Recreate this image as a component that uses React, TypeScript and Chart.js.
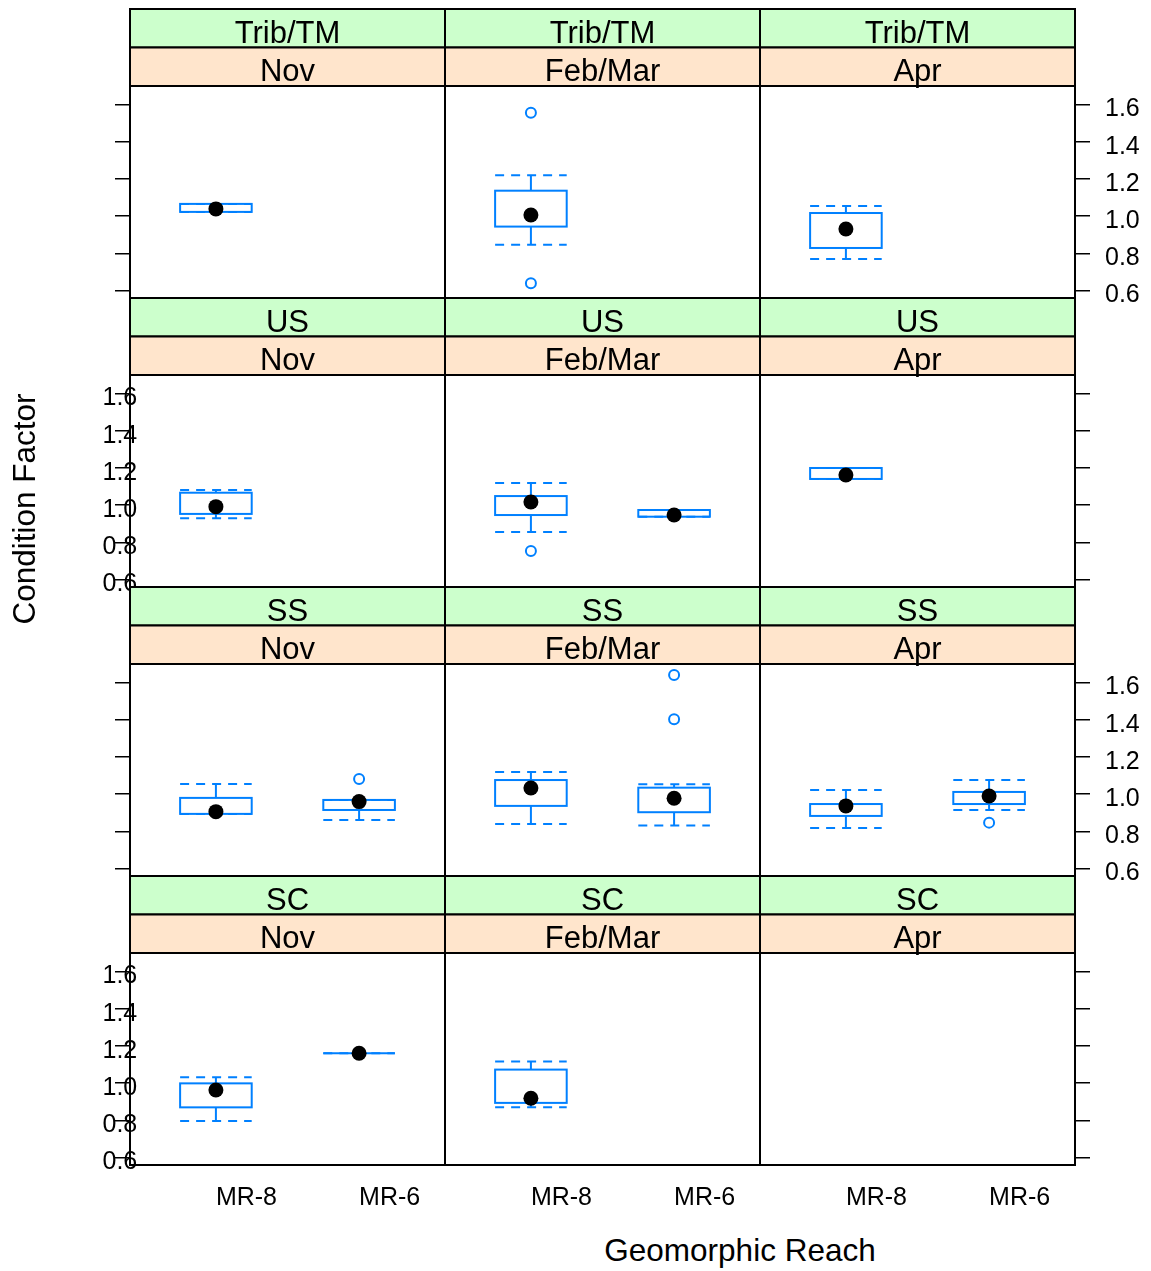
import React, { useEffect, useRef } from "react";
import { Chart, registerables } from "chart.js";

Chart.register(...registerables);

const FONT = '"Liberation Sans", Arial, Helvetica, sans-serif';
const BLUE = "#0080FF";
const STRIP_OUTER = "#CCFFCC";
const STRIP_INNER = "#FFE5CC";

// Conditioning levels and x categories
const habitats = ["Trib/TM", "US", "SS", "SC"];
const seasons = ["Nov", "Feb/Mar", "Apr"];
const reaches = ["MR-8", "MR-6"];
const yTicks = [0.6, 0.8, 1.0, 1.2, 1.4, 1.6];

// One entry per box: where it sits, then its five-number summary
const boxHabitat = ["Trib/TM", "Trib/TM", "Trib/TM", "US", "US", "US", "US", "SS", "SS", "SS", "SS", "SS", "SS", "SC", "SC", "SC"];
const boxSeason = ["Nov", "Feb/Mar", "Apr", "Nov", "Feb/Mar", "Feb/Mar", "Apr", "Nov", "Nov", "Feb/Mar", "Feb/Mar", "Apr", "Apr", "Nov", "Nov", "Feb/Mar"];
const boxReach = ["MR-8", "MR-8", "MR-8", "MR-8", "MR-8", "MR-6", "MR-8", "MR-8", "MR-6", "MR-8", "MR-6", "MR-8", "MR-6", "MR-8", "MR-6", "MR-8"];
const whiskerLow = [1.023, 0.847, 0.770, 0.930, 0.856, 0.938, 1.141, 0.894, 0.861, 0.840, 0.831, 0.818, 0.915, 0.797, 1.161, 0.870];
const quartile1 = [1.023, 0.944, 0.829, 0.953, 0.947, 0.938, 1.141, 0.894, 0.915, 0.937, 0.903, 0.883, 0.947, 0.870, 1.161, 0.894];
const medians = [1.039, 1.006, 0.931, 0.992, 1.017, 0.947, 1.162, 0.906, 0.960, 1.033, 0.978, 0.937, 0.990, 0.963, 1.161, 0.919];
const quartile3 = [1.066, 1.137, 1.017, 1.067, 1.049, 0.974, 1.200, 0.980, 0.969, 1.076, 1.035, 0.947, 1.012, 0.999, 1.161, 1.073];
const whiskerHigh = [1.066, 1.220, 1.055, 1.082, 1.119, 0.974, 1.200, 1.055, 0.969, 1.119, 1.053, 1.023, 1.076, 1.032, 1.161, 1.116];

// Points beyond the whiskers
const outlierHabitat = ["Trib/TM", "Trib/TM", "US", "SS", "SS", "SS", "SS"];
const outlierSeason = ["Feb/Mar", "Feb/Mar", "Feb/Mar", "Nov", "Feb/Mar", "Feb/Mar", "Apr"];
const outlierReach = ["MR-8", "MR-8", "MR-8", "MR-6", "MR-6", "MR-6", "MR-6"];
const outlierValue = [1.556, 0.639, 0.754, 1.082, 1.641, 1.403, 0.847];

// Scale ranges
const Y_MIN = 0.56;
const Y_MAX = 1.7;
const X_MIN = 0.4;
const X_MAX = 2.6;
const BOX_WIDTH = 0.5;

// Panel grid geometry
const PANEL_LEFT = 130;
const PANEL_W = 315;
const PANEL_TOP = 86;
const PANEL_H = 212;
const ROW_PITCH = 289;
const STRIP_H = 38.5;
const TOP_PAD = 4;
const SIDE = 80;
const LEFT_AXIS_W = 40;
const RIGHT_AXIS_W = 74;
const AXIS_H = 60;

const CANVAS_W = PANEL_W + 2 * SIDE;
const CANVAS_H = TOP_PAD + 2 * STRIP_H + PANEL_H + AXIS_H;

function Panel({ row, col }: { row: number; col: number }) {
  const ref = useRef<HTMLCanvasElement>(null);
  const left = PANEL_LEFT + col * PANEL_W - SIDE;
  const top = PANEL_TOP + row * ROW_PITCH - 2 * STRIP_H - TOP_PAD;

  useEffect(() => {
    const canvas = ref.current;
    if (!canvas) return;
    const habitat = habitats[row];
    const season = seasons[col];

    const boxIdx: number[] = [];
    boxHabitat.forEach((h, i) => {
      if (h === habitat && boxSeason[i] === season) boxIdx.push(i);
    });
    const medianPts = boxIdx.map((i) => ({ x: reaches.indexOf(boxReach[i]) + 1, y: medians[i] }));
    const outlierPts: { x: number; y: number }[] = [];
    outlierHabitat.forEach((h, i) => {
      if (h === habitat && outlierSeason[i] === season) {
        outlierPts.push({ x: reaches.indexOf(outlierReach[i]) + 1, y: outlierValue[i] });
      }
    });

    const boxPlugin = {
      id: "boxes",
      beforeDatasetsDraw(chart: any) {
        const { ctx } = chart;
        const x = chart.scales.x;
        const y = chart.scales.y;
        ctx.save();
        ctx.strokeStyle = BLUE;
        ctx.lineWidth = 2;
        for (const i of boxIdx) {
          const c = reaches.indexOf(boxReach[i]) + 1;
          const xl = x.getPixelForValue(c - BOX_WIDTH / 2);
          const xr = x.getPixelForValue(c + BOX_WIDTH / 2);
          const xc = x.getPixelForValue(c);
          const yLo = y.getPixelForValue(whiskerLow[i]);
          const yQ1 = y.getPixelForValue(quartile1[i]);
          const yQ3 = y.getPixelForValue(quartile3[i]);
          const yHi = y.getPixelForValue(whiskerHigh[i]);
          ctx.setLineDash([]);
          ctx.strokeRect(xl, yQ3, xr - xl, yQ1 - yQ3);
          ctx.beginPath();
          ctx.moveTo(xc, yQ3);
          ctx.lineTo(xc, yHi);
          ctx.moveTo(xc, yQ1);
          ctx.lineTo(xc, yLo);
          ctx.stroke();
          ctx.setLineDash([9, 7]);
          ctx.beginPath();
          ctx.moveTo(xl, yHi);
          ctx.lineTo(xr, yHi);
          ctx.moveTo(xl, yLo);
          ctx.lineTo(xr, yLo);
          ctx.stroke();
        }
        ctx.restore();
      },
      afterDraw(chart: any) {
        const { ctx, chartArea: a } = chart;
        ctx.save();
        const stripLabels = [habitat, season];
        const stripColors = [STRIP_OUTER, STRIP_INNER];
        ctx.lineWidth = 2;
        ctx.strokeStyle = "#000";
        ctx.font = `31px ${FONT}`;
        ctx.textAlign = "center";
        ctx.textBaseline = "alphabetic";
        for (let k = 0; k < 2; k++) {
          const sTop = a.top - 2 * STRIP_H + k * STRIP_H;
          ctx.fillStyle = stripColors[k];
          ctx.fillRect(a.left, sTop, a.right - a.left, STRIP_H);
          ctx.strokeRect(a.left, sTop, a.right - a.left, STRIP_H);
          ctx.fillStyle = "#000";
          ctx.fillText(stripLabels[k], (a.left + a.right) / 2, sTop + 33.8);
        }
        ctx.strokeRect(a.left, a.top, a.right - a.left, a.bottom - a.top);
        ctx.restore();
      },
    };

    const tickFont = { family: FONT, size: 25 };
    const yAxis = (
      position: "left" | "right",
      width: number,
      marks: boolean,
      labels: boolean,
      padding: number,
      mirror: boolean
    ) => ({
      type: "linear",
      position,
      min: Y_MIN,
      max: Y_MAX,
      afterBuildTicks: (s: any) => {
        s.ticks = yTicks.map((v) => ({ value: v }));
      },
      afterFit: (s: any) => {
        s.width = width;
      },
      grid: { display: marks, drawOnChartArea: false, drawTicks: true, tickLength: 15, color: "#000", lineWidth: 1.5 },
      border: { display: false },
      ticks: {
        display: labels,
        padding,
        mirror,
        crossAlign: "near",
        labelOffset: 5,
        font: tickFont,
        color: "#000",
        callback: (v: any) => Number(v).toFixed(1),
      },
    });

    const chart = new Chart(canvas, {
      type: "scatter",
      data: {
        datasets: [
          {
            data: medianPts,
            pointRadius: 7.5,
            pointBackgroundColor: "#000",
            pointBorderColor: "#000",
            pointBorderWidth: 0,
          },
          {
            data: outlierPts,
            pointRadius: 5,
            pointBackgroundColor: "rgba(0,0,0,0)",
            pointBorderColor: BLUE,
            pointBorderWidth: 2,
          },
        ],
      },
      options: {
        animation: false,
        responsive: false,
        devicePixelRatio: 1,
        events: [],
        layout: {
          padding: {
            left: SIDE - LEFT_AXIS_W,
            right: SIDE - RIGHT_AXIS_W,
            top: TOP_PAD + 2 * STRIP_H,
            bottom: 0,
          },
        },
        plugins: { legend: { display: false }, tooltip: { enabled: false } },
        scales: {
          x: {
            type: "linear",
            position: "bottom",
            min: X_MIN,
            max: X_MAX,
            afterBuildTicks: (s: any) => {
              s.ticks = reaches.map((_, i) => ({ value: i + 1 }));
            },
            afterFit: (s: any) => {
              s.height = AXIS_H;
            },
            grid: { display: false, drawTicks: false },
            border: { display: false },
            ticks: {
              display: row === habitats.length - 1,
              align: "start",
              padding: 18,
              maxRotation: 0,
              minRotation: 0,
              autoSkip: false,
              font: tickFont,
              color: "#000",
              callback: (_v: any, i: number) => reaches[i],
            },
          },
          // left-side labels sit over the panel edge, so they are mirrored
          // (mirrored labels are not clipped to the axis box)
          y: yAxis("left", LEFT_AXIS_W, col === 0, col === 0 && row % 2 === 1, -27.5, true),
          y2: yAxis(
            "right",
            RIGHT_AXIS_W,
            col === seasons.length - 1,
            col === seasons.length - 1 && row % 2 === 0,
            15,
            false
          ),
        } as any,
      },
      plugins: [boxPlugin as any],
    } as any);
    return () => chart.destroy();
  }, [row, col]);

  return (
    <canvas
      ref={ref}
      width={CANVAS_W}
      height={CANVAS_H}
      style={{ position: "absolute", left, top, width: CANVAS_W, height: CANVAS_H }}
    />
  );
}

export default function App() {
  const panels = [];
  for (let r = 0; r < habitats.length; r++) {
    for (let c = 0; c < seasons.length; c++) {
      panels.push(<Panel key={`${r}-${c}`} row={r} col={c} />);
    }
  }
  return (
    <div
      style={{
        position: "absolute",
        left: 0,
        top: 0,
        width: 1151,
        height: 1271,
        overflow: "hidden",
        background: "#fff",
        fontFamily: FONT,
        color: "#000",
      }}
    >
      {panels}
      <div
        style={{
          position: "absolute",
          left: 24,
          top: 509,
          transform: "translate(-50%, -50%) rotate(-90deg)",
          fontSize: 31.5,
          whiteSpace: "nowrap",
        }}
      >
        Condition Factor
      </div>
      <div
        style={{
          position: "absolute",
          left: 740,
          top: 1250,
          transform: "translate(-50%, -50%)",
          fontSize: 31.5,
          whiteSpace: "nowrap",
        }}
      >
        Geomorphic Reach
      </div>
    </div>
  );
}
